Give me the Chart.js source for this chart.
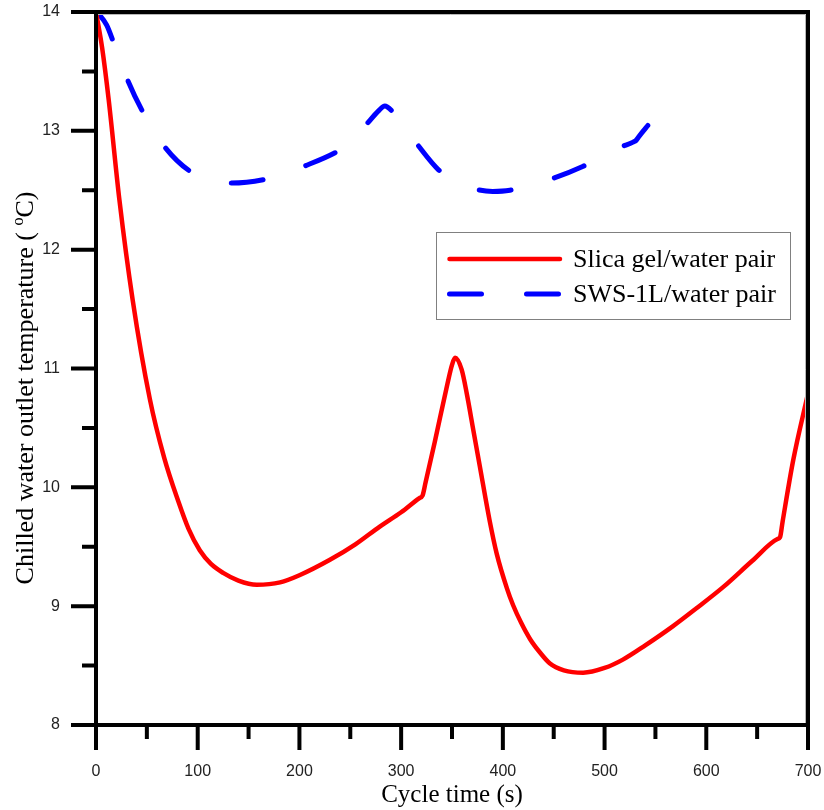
<!DOCTYPE html>
<html><head><meta charset="utf-8">
<script src="https://cdn.jsdelivr.net/npm/chart.js@4.4.1/dist/chart.umd.min.js"></script>
<style>html,body{margin:0;padding:0;background:#fff;}</style>
</head><body>
<canvas id="c" width="824" height="810"></canvas>
<script>
// ---- data ----
const seriesNames = ['Slica gel/water pair', 'SWS-1L/water pair'];
const timeSilica = [0, 6, 12.5, 23, 36, 53, 67, 81, 91, 102, 113, 125, 140, 158, 181, 200, 230, 255, 279, 300, 318, 321, 324, 333, 345, 350, 353, 359.5, 364.5, 371, 377.5, 387, 394, 404, 410, 418, 427, 436.5, 446, 460, 479, 500, 518, 540, 567, 590, 616.5, 645, 670, 672.5, 675, 685.5, 700];
const tempSilica = [14.0, 13.7, 13.26, 12.42, 11.58, 10.74, 10.25, 9.88, 9.65, 9.47, 9.355, 9.28, 9.215, 9.18, 9.20, 9.26, 9.39, 9.52, 9.67, 9.79, 9.91, 9.93, 10.04, 10.38, 10.85, 11.03, 11.09, 10.99, 10.79, 10.48, 10.17, 9.72, 9.44, 9.15, 9.01, 8.86, 8.72, 8.61, 8.52, 8.46, 8.44, 8.48, 8.55, 8.67, 8.83, 8.98, 9.16, 9.38, 9.565, 9.58, 9.71, 10.23, 10.79];
const timeSWS = [0, 4, 10.5, 17, 31, 46, 68, 92.5, 110, 132, 165, 185, 204, 236, 250, 265.5, 278, 284, 290.7, 314.6, 337, 355, 372.6, 390, 407, 446, 478.5, 515, 528, 531, 534, 543];
const tempSWS = [14.0, 13.97, 13.89, 13.75, 13.43, 13.16, 12.86, 12.66, 12.60, 12.56, 12.59, 12.64, 12.70, 12.82, 12.90, 13.05, 13.17, 13.21, 13.17, 12.90, 12.67, 12.57, 12.51, 12.49, 12.50, 12.59, 12.70, 12.86, 12.905, 12.92, 12.955, 13.05];
const xTickValues = [0, 100, 200, 300, 400, 500, 600, 700];
const yTickValues = [8, 9, 10, 11, 12, 13, 14];
const xAxisTitle = 'Cycle time (s)';
const yAxisTitleMain = 'Chilled water outlet temperature ( ';
const yAxisTitleSup = 'o';
const yAxisTitleEnd = 'C)';

const SANS = '"Liberation Sans", Arial, sans-serif';
const SERIF = '"Liberation Serif", "Times New Roman", serif';

function pts(xs, ys) { return xs.map((x, i) => ({ x: x, y: ys[i] })); }
function midpoints(v) { const m = []; for (let i = 0; i < v.length - 1; i++) m.push((v[i] + v[i + 1]) / 2); return m; }

const framePlugin = {
  id: 'frame',
  afterDraw(chart) {
    const ctx = chart.ctx, a = chart.chartArea;
    const xs = chart.scales.x, ys = chart.scales.y;
    ctx.save();
    // faint inner edge seen under the top and inside the right border
    ctx.strokeStyle = '#b8b8b8';
    ctx.lineWidth = 1;
    ctx.beginPath();
    ctx.moveTo(a.left, a.top + 2.5); ctx.lineTo(a.right - 2.5, a.top + 2.5); ctx.lineTo(a.right - 2.5, a.bottom);
    ctx.stroke();
    ctx.strokeStyle = '#000';
    ctx.lineWidth = 4;
    ctx.lineCap = 'butt';
    ctx.strokeRect(a.left, a.top, a.right - a.left, a.bottom - a.top);
    ctx.beginPath();
    xTickValues.forEach(v => { const p = xs.getPixelForValue(v); ctx.moveTo(p, a.bottom); ctx.lineTo(p, a.bottom + 25); });
    midpoints(xTickValues).forEach(v => { const p = xs.getPixelForValue(v); ctx.moveTo(p, a.bottom); ctx.lineTo(p, a.bottom + 14); });
    yTickValues.forEach(v => { const p = ys.getPixelForValue(v); ctx.moveTo(a.left, p); ctx.lineTo(a.left - 25, p); });
    midpoints(yTickValues).forEach(v => { const p = ys.getPixelForValue(v); ctx.moveTo(a.left, p); ctx.lineTo(a.left - 14, p); });
    ctx.stroke();

    // y axis title with superscript
    ctx.fillStyle = '#000';
    ctx.translate(24, 388);
    ctx.rotate(-Math.PI / 2);
    ctx.textBaseline = 'alphabetic';
    ctx.textAlign = 'left';
    const big = '26px ' + SERIF, small = '16px ' + SERIF;
    ctx.font = big; const w1 = ctx.measureText(yAxisTitleMain).width; const w3 = ctx.measureText(yAxisTitleEnd).width;
    ctx.font = small; const w2 = ctx.measureText(yAxisTitleSup).width;
    let x0 = -(w1 + w2 + w3) / 2;
    ctx.font = big; ctx.fillText(yAxisTitleMain, x0, 9);
    ctx.font = small; ctx.fillText(yAxisTitleSup, x0 + w1, -1);
    ctx.font = big; ctx.fillText(yAxisTitleEnd, x0 + w1 + w2, 9);
    ctx.restore();

    // legend
    ctx.save();
    ctx.fillStyle = '#fff';
    ctx.fillRect(436.5, 232.5, 354, 87);
    ctx.strokeStyle = '#808080';
    ctx.lineWidth = 1;
    ctx.strokeRect(436.5, 232.5, 354, 87);
    const rows = [259, 294];
    chart.data.datasets.forEach((ds, i) => {
      ctx.beginPath();
      ctx.strokeStyle = ds.borderColor;
      ctx.lineWidth = ds.borderWidth;
      ctx.lineCap = 'round';
      ctx.setLineDash(ds.borderDash || []);
      ctx.moveTo(449.5, rows[i]);
      ctx.lineTo(560, rows[i]);
      ctx.stroke();
      ctx.setLineDash([]);
      ctx.fillStyle = '#000';
      ctx.font = '26px ' + SERIF;
      ctx.textBaseline = 'middle';
      ctx.textAlign = 'left';
      ctx.fillText(ds.label, 573, rows[i] + 1);
    });
    ctx.restore();
  }
};

new Chart(document.getElementById('c'), {
  type: 'line',
  data: {
    datasets: [
      { label: seriesNames[0], data: pts(timeSilica, tempSilica), borderColor: '#ff0000', borderWidth: 4.5,
        pointRadius: 0, cubicInterpolationMode: 'monotone', borderCapStyle: 'round', borderJoinStyle: 'round', fill: false },
      { label: seriesNames[1], data: pts(timeSWS, tempSWS), borderColor: '#0000ff', borderWidth: 5, borderDash: [32, 45],
        pointRadius: 0, cubicInterpolationMode: 'monotone', borderCapStyle: 'round', borderJoinStyle: 'round', fill: false }
    ]
  },
  options: {
    responsive: false,
    animation: false,
    layout: { padding: { top: 12, right: 16, left: 0, bottom: 0 } },
    plugins: { legend: { display: false }, tooltip: { enabled: false } },
    scales: {
      x: {
        type: 'linear', min: 0, max: 700,
        afterBuildTicks: s => { s.ticks = xTickValues.map(v => ({ value: v })); },
        afterFit: s => { s.height = 85; },
        grid: { display: false, drawTicks: true, tickLength: 37 },
        border: { display: false },
        ticks: { padding: 0, color: '#222', font: { family: SANS, size: 16 }, maxRotation: 0 },
        title: { display: true, text: xAxisTitle, color: '#000', font: { family: SERIF, size: 25 }, padding: { top: 0, bottom: 0 } }
      },
      y: {
        type: 'linear', min: 8, max: 14,
        afterBuildTicks: s => { s.ticks = yTickValues.map(v => ({ value: v })); },
        afterFit: s => { s.width = 96; },
        grid: { display: false, drawTicks: true, tickLength: 36 },
        border: { display: false },
        ticks: { padding: 0, color: '#222', font: { family: SANS, size: 16 } }
      }
    }
  },
  plugins: [framePlugin]
});
</script>
</body></html>
